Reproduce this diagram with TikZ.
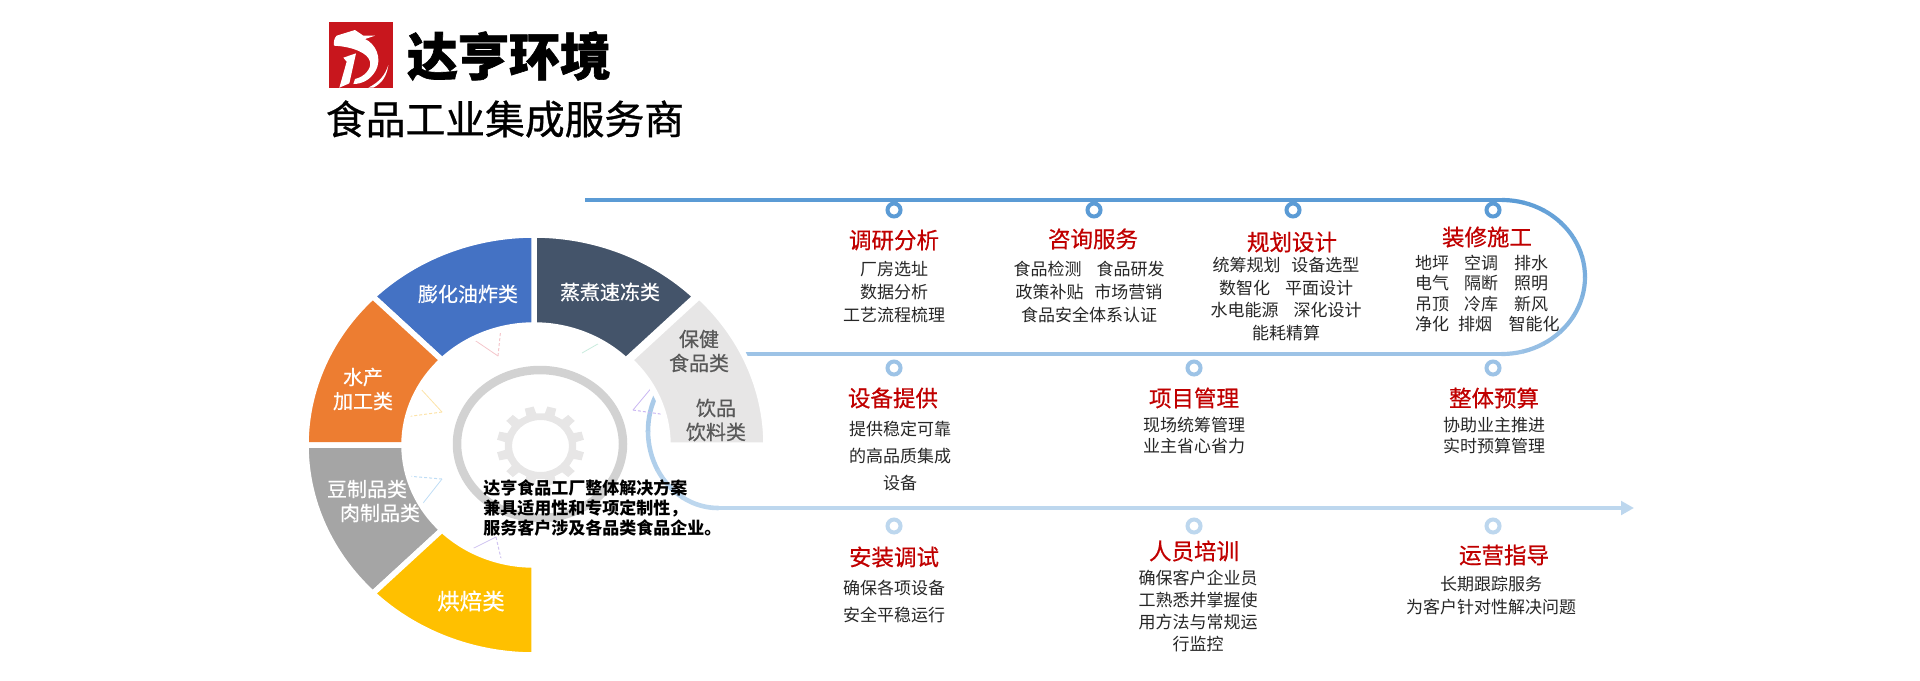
\documentclass[tikz,border=0pt]{standalone}
\usepackage{fontspec}
\usepackage{xcolor}
\usetikzlibrary{arrows.meta}
\setmainfont{Noto Sans CJK SC}
\definecolor{lineA}{HTML}{5B9BD5}
\definecolor{lineB}{HTML}{9DC3E6}
\definecolor{lineC}{HTML}{BDD7EE}
\definecolor{logored}{HTML}{C8161D}
\definecolor{ttlred}{HTML}{C00000}
\definecolor{txtdark}{HTML}{262626}
\definecolor{ringgray}{HTML}{D2D2D2}
\definecolor{gearlight}{HTML}{E7E6E6}

\begin{document}
\begin{tikzpicture}[x=0.5pt,y=-0.5pt,
seg/.style={draw=white,line width=2.75pt,line join=round},
seglab/.style={font=\fontsize{10pt}{12pt}\selectfont\addfontfeature{FakeBold=0.5},align=center,inner sep=0pt,text=white},
ttl/.style={font=\fontsize{11.25pt}{13pt}\selectfont\addfontfeature{FakeBold=0.6},text=ttlred,inner sep=0pt},
bd/.style={font=\fontsize{8.5pt}{#1pt}\selectfont,align=center,text=txtdark,inner sep=0pt},
dot/.style={circle,draw=#1,fill=white,line width=2pt,minimum size=6.5pt,inner sep=0pt}]
	\useasboundingbox (0,0) rectangle (1920,680);

	%logo
	\fill[logored] (329,22) rectangle (393,88);
	\begin{scope}[shift={(320,15)},x=0.1667pt,y=-0.1667pt]
		\fill[white] (42,92) .. controls (40,78) and (44,68) .. (50,62) -- (95,48) -- (105,45) -- (130,62) -- (165,62) -- (135,72)
			.. controls (165,85) and (190,130) .. (165,170) .. controls (150,195) and (125,207) .. (100,207) -- (105,192)
			.. controls (135,185) and (155,160) .. (150,140) .. controls (145,115) and (100,95) .. (42,92) -- cycle;
		\fill[white] (70,128) -- (108,115) -- (88,205) -- (58,218) -- (80,140) -- cycle;
		\fill[white] (205,150) .. controls (200,185) and (185,205) .. (160,218) -- (145,218) .. controls (180,200) and (195,180) .. (205,150) -- cycle;
	\end{scope}
	\node[inner sep=0pt,font=\fontsize{25.5pt}{28pt}\bfseries\selectfont\addfontfeature{FakeBold=1.2}] (brand) at (509,56) {达亨环境};
	\node[inner sep=0pt,font=\fontsize{19.9pt}{22pt}\selectfont\addfontfeature{FakeBold=0.8}] (slogan) at (505,119) {食品工业集成服务商};

	%route lines
	\coordinate (lstart) at (585,200);
	\coordinate (lr1) at (1502,200);
	\coordinate (lr2) at (1502,354);
	\coordinate (ll1) at (718,354);
	\coordinate (ll2) at (718,508);
	\coordinate (lend) at (1634,508);
	\draw[lineA,line width=2pt] (lstart) -- (lr1);
	\foreach \i in {0,...,11}
		\pgfmathsetmacro{\mixv}{100-\i*100/11}
		\draw[lineA!\mixv!lineB,line width=2.1pt] (1502,277) ++({-90+\i*15}:83 and 77) arc[start angle=-90+\i*15,end angle=-90+\i*15+15.5,x radius=83,y radius=77];
	\draw[lineB,line width=2.2pt] (lr2) -- (ll1);
	\foreach \i in {0,...,5}
		\pgfmathsetmacro{\mixv}{100-\i*100/5}
		\draw[lineB!\mixv!lineC,line width=2.3pt] (718,431) ++({-90-\i*30}:70 and 77) arc[start angle=-90-\i*30,end angle=-90-\i*30-30.5,x radius=70,y radius=77];
	\draw[lineC,line width=2.35pt,-{Triangle[length=6.5pt,width=6.8pt]}] (ll2) -- (lend);

	%small dashed triangles inside ring
	\foreach \ax/\ay/\bx/\by/\cx/\cy/\tcol in {470/337/498/356/501/327/F4C6CB,
		582/353/603/341/579/333/C8EBDD,
		419/387/442/412/405/417/FCE3A8,
		420/507/442/479/407/476/BFDDF5,
		468/551/496/537/502/563/D0C4F0,
		653/386/633/410/667/415/C9B6F2}{
		\definecolor{tricol}{HTML}{\tcol}
		\draw[tricol,line width=0.4pt] (\ax,\ay) -- (\bx,\by);
		\draw[tricol,line width=0.5pt,dash pattern=on 1.5pt off 1pt] (\bx,\by) -- (\cx,\cy);
	}

	%sectors
	\foreach \ang/\col/\sx in {0/E7E6E6/538,-45/44546A/534,-90/4472C4/534,-135/ED7D31/534,-180/A5A5A5/534,-225/FFC000/534}{
		\definecolor{segcol}{HTML}{\col}
		\begin{scope}[shift={(\sx,445)}]
		\filldraw[seg,fill=segcol] (\ang:130 and 120)
			arc[start angle=\ang,end angle=\ang-45,x radius=130,y radius=120]
			-- (\ang-45:228 and 210) arc[start angle=\ang-45,end angle=\ang,x radius=228,y radius=210] -- cycle;
		\end{scope}
	}

	%gear and ring
	\draw[ringgray,line width=4.25pt] (540,444) ellipse (83 and 74);
	\begin{scope}[shift={(540.5,446)}]
	\fill[gearlight,even odd rule] (0,0) ellipse (28.5 and 26)
		(-7:36 and 33)
		\foreach \a in {15,45,...,345}{
			-- (\a-8:36 and 33) -- (\a-6:44 and 40) -- (\a+6:44 and 40) -- (\a+8:36 and 33)
		} -- cycle;
	\end{scope}

	%sector labels
	\node[seglab] (pfy) at (468,294) {膨化油炸类};
	\node[seglab] (zzs) at (610,292) {蒸煮速冻类};
	\node[seglab,text=black!65] (bj) at (699,351) {保健\\食品类};
	\node[seglab,text=black!65] (yp) at (716,420) {饮品\\饮料类};
	\node[seglab] (sc) at (363,389) {水产\\加工类};
	\node[seglab] (dz) at (367,489) {豆制品类};
	\node[seglab] (rz) at (380,513) {肉制品类};
	\node[seglab,font=\fontsize{11.25pt}{13pt}\selectfont\addfontfeature{FakeBold=0.5}] (hb) at (471,601) {烘焙类};
	\node[inner sep=0pt,anchor=west,align=left,font=\fontsize{8.5pt}{10pt}\bfseries\selectfont] (intro) at (483,508) {达亨食品工厂整体解决方案\\兼具适用性和专项定制性，\\服务客户涉及各品类食品企业。};

	%ring markers
	\foreach \n/\x in {1/894,2/1094,3/1293,4/1493}
		\node[dot=lineA] (da\n) at (\x,210) {};
	\foreach \n/\x in {1/894,2/1194,3/1493}{
		\node[dot=lineB] (db\n) at (\x,368) {};
		\node[dot=lineC] (dc\n) at (\x,526) {};
	}

	%first row
	\node[ttl] (dy) at (894,240) {调研分析};
	\node[bd=11.5] (dytxt) at (894,292) {厂房选址\\数据分析\\工艺流程梳理};
	\node[ttl] (zx) at (1093,239) {咨询服务};
	\node[bd=11.5] (zxtxt) at (1089,292) {食品检测\hspace{7.5pt}食品研发\\政策补贴\hspace{5.3pt}市场营销\\食品安全体系认证};
	\node[ttl] (gh) at (1292,242) {规划设计};
	\node[bd=11.4] (ghtxt) at (1286,299) {统筹规划\hspace{5.3pt}设备选型\\数智化\hspace{7.5pt}平面设计\\水电能源\hspace{7.5pt}深化设计\\能耗精算};
	\node[ttl] (zs) at (1487,237) {装修施工};
	\foreach \n/\x/\y/\s in {1/1432/263/地坪,2/1481/263/空调,3/1531/263/排水,
		4/1432/283/电气,5/1481/283/隔断,6/1531/283/照明,
		7/1432/304/吊顶,8/1481/304/冷库,9/1531/304/新风,
		10/1432/324/净化,11/1475/324/排烟,12/1534/324/智能化}
		\node[bd=10] (zs\n) at (\x,\y) {\s};

	%second row
	\node[ttl] (sb) at (893,398) {设备提供};
	\node[bd=13.5] (sbtxt) at (900,456) {提供稳定可靠\\的高品质集成\\设备};
	\node[ttl] (xm) at (1194,398) {项目管理};
	\node[bd=10.5] (xmtxt) at (1194,436) {现场统筹管理\\业主省心省力};
	\node[ttl] (zt) at (1494,398) {整体预算};
	\node[bd=10.5] (zttxt) at (1494,436) {协助业主推进\\实时预算管理};

	%third row
	\node[ttl] (az) at (894,557) {安装调试};
	\node[bd=13.5] (aztxt) at (894,601) {确保各项设备\\安全平稳运行};
	\node[ttl] (ry) at (1194,551) {人员培训};
	\node[bd=11.15] (rytxt) at (1198,611) {确保客户企业员\\工熟悉并掌握使\\用方法与常规运\\行监控};
	\node[ttl] (yy) at (1504,555) {运营指导};
	\node[bd=11.5] (yytxt) at (1491,596) {长期跟踪服务\\为客户针对性解决问题};
\end{tikzpicture}
\end{document}
